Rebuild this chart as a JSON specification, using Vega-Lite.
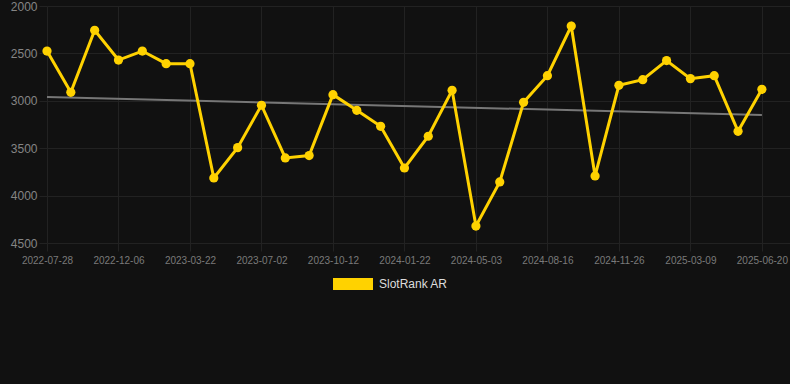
{
  "$schema": "https://vega.github.io/schema/vega-lite/v6.json",
  "autosize": {"type": "none"},
  "padding": {"left": 47, "top": 6, "right": 0, "bottom": 141},
  "width": 743,
  "height": 237,
  "background": "#111111",
  "config": {
    "view": {"stroke": null},
    "font": "Liberation Sans, Arial, sans-serif"
  },
  "datasets": {
    "rank": [
      {"date": "2022-07-28", "rank": 2475, "series": "SlotRank AR"},
      {"date": "2022-09-10", "rank": 2910, "series": "SlotRank AR"},
      {"date": "2022-10-24", "rank": 2256, "series": "SlotRank AR"},
      {"date": "2022-12-06", "rank": 2570, "series": "SlotRank AR"},
      {"date": "2023-01-11", "rank": 2475, "series": "SlotRank AR"},
      {"date": "2023-02-15", "rank": 2608, "series": "SlotRank AR"},
      {"date": "2023-03-22", "rank": 2608, "series": "SlotRank AR"},
      {"date": "2023-04-25", "rank": 3814, "series": "SlotRank AR"},
      {"date": "2023-05-29", "rank": 3494, "series": "SlotRank AR"},
      {"date": "2023-07-02", "rank": 3047, "series": "SlotRank AR"},
      {"date": "2023-08-05", "rank": 3603, "series": "SlotRank AR"},
      {"date": "2023-09-08", "rank": 3578, "series": "SlotRank AR"},
      {"date": "2023-10-12", "rank": 2935, "series": "SlotRank AR"},
      {"date": "2023-11-15", "rank": 3100, "series": "SlotRank AR"},
      {"date": "2023-12-19", "rank": 3269, "series": "SlotRank AR"},
      {"date": "2024-01-22", "rank": 3709, "series": "SlotRank AR"},
      {"date": "2024-02-25", "rank": 3374, "series": "SlotRank AR"},
      {"date": "2024-03-30", "rank": 2889, "series": "SlotRank AR"},
      {"date": "2024-05-03", "rank": 4321, "series": "SlotRank AR"},
      {"date": "2024-06-07", "rank": 3856, "series": "SlotRank AR"},
      {"date": "2024-07-12", "rank": 3016, "series": "SlotRank AR"},
      {"date": "2024-08-16", "rank": 2735, "series": "SlotRank AR"},
      {"date": "2024-09-19", "rank": 2211, "series": "SlotRank AR"},
      {"date": "2024-10-23", "rank": 3793, "series": "SlotRank AR"},
      {"date": "2024-11-26", "rank": 2837, "series": "SlotRank AR"},
      {"date": "2024-12-30", "rank": 2777, "series": "SlotRank AR"},
      {"date": "2025-02-02", "rank": 2576, "series": "SlotRank AR"},
      {"date": "2025-03-09", "rank": 2766, "series": "SlotRank AR"},
      {"date": "2025-04-12", "rank": 2735, "series": "SlotRank AR"},
      {"date": "2025-05-16", "rank": 3322, "series": "SlotRank AR"},
      {"date": "2025-06-20", "rank": 2879, "series": "SlotRank AR"}
    ],
    "trend": [
      {"date": "2022-07-28", "trend": 2960},
      {"date": "2025-06-20", "trend": 3150}
    ]
  },
  "encoding": {
    "x": {
      "field": "date",
      "type": "ordinal",
      "scale": {"type": "point", "padding": 0.59, "align": 0},
      "axis": {
        "title": null,
        "values": ["2022-07-28", "2022-12-06", "2023-03-22", "2023-07-02", "2023-10-12", "2024-01-22", "2024-05-03", "2024-08-16", "2024-11-26", "2025-03-09", "2025-06-20"],
        "labelAngle": 0,
        "labelFontSize": 10,
        "labelColor": "#7a7a7a",
        "labelPadding": 4,
        "tickSize": 8,
        "tickColor": "#222222",
        "domain": false,
        "grid": true,
        "gridColor": "#222222",
        "labelFont": "Liberation Sans, Arial, sans-serif"
      }
    },
    "y": {
      "type": "quantitative",
      "scale": {"domain": [2000, 4500], "reverse": true, "nice": false, "zero": false},
      "axis": {
        "title": null,
        "values": [2000, 2500, 3000, 3500, 4000, 4500],
        "format": "d",
        "labelFontSize": 12,
        "labelColor": "#858585",
        "labelPadding": 2,
        "tickSize": 8,
        "tickColor": "#222222",
        "domain": false,
        "grid": true,
        "gridColor": "#222222",
        "labelFont": "Liberation Sans, Arial, sans-serif"
      }
    }
  },
  "layer": [
    {
      "data": {"name": "trend"},
      "mark": {"type": "line", "color": "#777777", "strokeWidth": 2},
      "encoding": {"y": {"field": "trend", "type": "quantitative"}}
    },
    {
      "data": {"name": "rank"},
      "mark": {"type": "line", "strokeWidth": 3},
      "encoding": {
        "y": {"field": "rank", "type": "quantitative"},
        "color": {
          "field": "series",
          "type": "nominal",
          "scale": {"domain": ["SlotRank AR"], "range": ["#FFD200"]},
          "legend": {
            "title": null,
            "orient": "none",
            "legendX": 286,
            "legendY": 258,
            "symbolType": "M-1,-0.3L1,-0.3L1,0.3L-1,0.3Z",
            "symbolSize": 1600,
            "symbolFillColor": "#FFD200",
            "symbolStrokeWidth": 0,
            "labelFontSize": 12,
            "labelColor": "#dddddd",
            "labelOffset": 6,
            "padding": 0,
            "labelFont": "Liberation Sans, Arial, sans-serif"
          }
        }
      }
    },
    {
      "data": {"name": "rank"},
      "mark": {"type": "point", "filled": true, "size": 85, "opacity": 1},
      "encoding": {
        "y": {"field": "rank", "type": "quantitative"},
        "color": {"field": "series", "type": "nominal"}
      }
    }
  ]
}
